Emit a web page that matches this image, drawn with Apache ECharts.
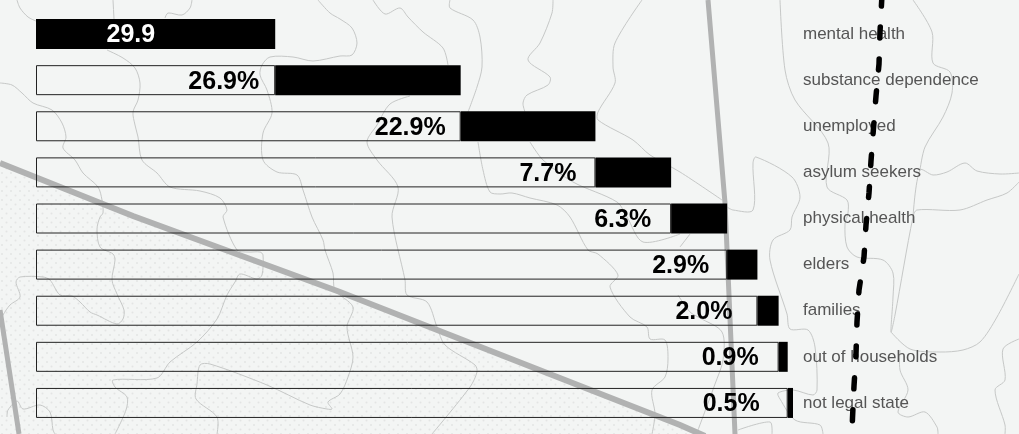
<!DOCTYPE html>
<html>
<head>
<meta charset="utf-8">
<style>
  html, body { margin: 0; padding: 0; background: #f3f5f4; }
  #chart { width: 1019px; height: 434px; }
</style>
<script src="https://cdn.jsdelivr.net/npm/echarts@6/dist/echarts.min.js"></script>
</head>
<body>
<div id="chart"></div>
<script>
const categories = ["mental health", "substance dependence", "unemployed", "asylum seekers", "physical health", "elders", "families", "out of households", "not legal state"];
// printed labels
const valueLabels = ["29.9", "26.9%", "22.9%", "7.7%", "6.3%", "2.9%", "2.0%", "0.9%", "0.5%"];
// bar lengths as drawn, in percent of the full width (the drawn lengths differ from the printed labels)
const drawnShares = [31.6, 24.5, 17.8, 10.0, 7.4, 4.0, 2.8, 1.2, 0.8];
// gap between printed label and the start of the black bar
const labelGaps = [120, 16, 15, 19, 20, 18, 25, 20, 28];

// background map
const thinLines = [
  [[17,0],[20,8],[28,17],[36,21]],
  [[107,50],[123,58],[135,68],[140,83],[138,100],[133,112],[135,125],[138,137],[142,160],[157,173],[170,187],[200,191],[220,198],[227,210],[223,217],[237,250],[248,252],[260,252],[263,255],[262,275],[257,279],[240,274],[235,282],[227,295],[217,319],[197,342],[170,362],[157,378],[113,380],[115,387],[127,397],[126,410],[115,434]],
  [[0,83],[12,85],[22,93],[33,103],[52,110],[62,123],[66,137],[63,148],[75,160],[83,173],[98,187],[102,200],[103,213],[100,217],[97,229],[100,247],[113,254],[115,260],[112,280],[117,294],[124,310],[123,319],[117,324],[97,315],[90,312],[80,302],[72,296],[60,295],[50,280],[43,277],[20,277],[16,282],[20,297],[10,305],[3,315],[0,322]],
  [[113,0],[114,19]],
  [[192,0],[190,8],[182,15],[168,13],[165,18]],
  [[318,0],[330,13],[340,19],[352,28],[357,43],[352,55],[340,56],[313,61],[293,57],[270,57],[262,65],[260,75],[267,90],[272,113],[263,133],[263,160],[277,172],[297,175],[303,190],[312,217],[323,240],[325,250],[333,273],[335,290],[353,307],[347,327],[353,357],[348,377],[340,394],[328,402],[332,409],[327,409],[310,405],[267,385],[210,364],[200,365],[197,384],[196,399],[217,417],[217,434]],
  [[7,417],[8,410],[17,401],[23,409],[40,405],[50,412],[53,430],[55,434]],
  [[373,0],[385,14],[400,8],[408,17],[423,32],[443,48],[448,65]],
  [[410,96],[390,104],[377,125],[367,142],[377,160],[398,187],[392,217],[405,280],[407,295],[427,302],[437,327],[445,345],[475,365],[477,372],[470,387],[432,434]],
  [[450,0],[450,8],[473,20],[480,37],[482,67],[477,87],[468,112]],
  [[478,142],[483,170],[490,192],[500,194],[512,193],[530,198],[557,205],[570,217],[588,250],[598,254],[618,275],[610,287],[630,317],[647,327],[650,339],[665,340],[668,359],[665,377],[652,390],[655,414],[652,434]],
  [[553,0],[552,13],[540,43],[528,60],[550,77],[548,85],[527,95],[523,103],[525,112]],
  [[530,142],[543,160],[573,182],[617,202],[627,217],[643,242],[680,234]],
  [[642,0],[615,43],[613,67],[615,83],[598,112],[598,120],[633,140],[650,155],[680,172],[722,200]],
  [[780,0],[785,70],[795,100],[828,143],[827,187],[847,200],[848,213],[845,224],[847,247],[857,257],[883,260],[893,273],[893,297],[891,332],[895,315],[913,217],[917,210],[960,210],[987,200],[1007,193],[1019,182]],
  [[920,170],[925,147],[943,117],[952,93],[950,72],[933,63],[932,32],[913,0]],
  [[913,217],[920,170],[933,175],[947,172],[965,163],[977,171],[1000,174],[1019,173]],
  [[727,207],[733,210],[753,210],[753,163],[756,157],[792,177],[800,197],[792,217],[790,230],[773,240],[770,260],[787,314],[790,329],[808,330],[815,347],[817,390],[813,395],[793,390],[778,393],[780,399],[795,420],[820,425],[823,434]],
  [[891,332],[910,349],[940,352],[963,350],[980,342],[997,317],[1019,274]],
  [[900,350],[900,370],[908,390],[898,412],[908,417],[925,412],[937,427],[938,434]],
  [[1019,339],[1003,349],[1005,380],[995,390],[1005,425],[1005,434]],
  [[738,430],[770,422],[772,434]],
  [[678,295],[690,312],[700,318],[722,332],[723,360],[715,384],[698,430]],
  [[690,234],[680,247]]
];
const diagonalLine = [[0,163],[133,216],[340,292],[680,425],[705,436]];
const thickLines = [
  [[708,0],[725,203],[735,434]],
  [[0,310],[19,434]]
];
const dottedArea = [[0,163],[133,216],[340,292],[680,425],[705,434],[0,434]];
const railway = [[882,-5],[880,32],[879,64],[876,96],[873.5,128],[871,161],[869,193],[866,225],[864,257],[859,290],[857,322],[856,354],[854,386],[852.5,418],[852,434]];

// stacked offset: everything left of each black bar
let offsets = [];
let running = 0;
drawnShares.forEach((v) => {
  offsets.push(running);
  running += v;
});

function dotTile() {
  const c = document.createElement("canvas");
  c.width = 9;
  c.height = 9;
  const ctx = c.getContext("2d");
  ctx.fillStyle = "#e3e5e4";
  [[2, 2], [6.5, 6.5]].forEach((p) => {
    ctx.beginPath();
    ctx.arc(p[0], p[1], 1, 0, Math.PI * 2);
    ctx.fill();
  });
  return c;
}

let graphics = [
  {
    type: "polygon",
    z: -20,
    shape: { points: dottedArea },
    style: { fill: { image: dotTile(), repeat: "repeat" } },
    silent: true,
  },
];
thinLines.forEach((pts) => {
  graphics.push({
    type: "polyline",
    z: -15,
    shape: { points: pts, smooth: 0.3 },
    style: { stroke: "#c6c8c7", lineWidth: 1, fill: null },
    silent: true,
  });
});
graphics.push({
  type: "polyline",
  z: -10,
  shape: { points: diagonalLine },
  style: { stroke: "#b1b2b2", lineWidth: 6, fill: null },
  silent: true,
});
thickLines.forEach((pts) => {
  graphics.push({
    type: "polyline",
    z: -10,
    shape: { points: pts },
    style: { stroke: "#b1b2b2", lineWidth: 5, fill: null },
    silent: true,
  });
});
graphics.push({
  type: "polyline",
  z: 100,
  shape: { points: railway },
  style: { stroke: "#000", lineWidth: 5.5, lineCap: "round", lineDash: [11, 21], fill: null },
  silent: true,
});

const mychart = echarts.init(document.getElementById("chart"), null, { renderer: "canvas" });
mychart.setOption({
  animation: false,
  backgroundColor: "#f3f5f4",
  textStyle: { fontFamily: "Liberation Sans" },
  graphic: { elements: graphics },
  grid: { left: 36, right: 226, top: 11, bottom: 8 },
  xAxis: { type: "value", min: 0, max: 100, show: false },
  yAxis: {
    type: "category",
    inverse: true,
    position: "right",
    data: categories,
    axisLine: { show: false },
    axisTick: { show: false },
    axisLabel: { margin: 10, color: "#555", fontSize: 17, fontFamily: "Liberation Sans" },
  },
  series: [
    {
      name: "rest",
      type: "bar",
      stack: "total",
      barWidth: 30,
      itemStyle: { color: "transparent", borderColor: "#222", borderWidth: 1 },
      label: {
        show: true,
        position: "insideRight",
        offset: [0, 1.5],
        color: "#000",
        fontSize: 25,
        fontWeight: "bold",
      },
      data: offsets.map((v, i) =>
        i === 0
          ? { value: v, itemStyle: { borderWidth: 0 }, label: { show: false } }
          : { value: v, label: { formatter: valueLabels[i], distance: labelGaps[i] } }
      ),
    },
    {
      name: "share",
      type: "bar",
      stack: "total",
      barWidth: 30,
      itemStyle: { color: "#000" },
      data: drawnShares.map((v, i) =>
        i === 0
          ? {
              value: v,
              label: {
                show: true,
                position: "insideRight",
                offset: [0, 1.5],
                distance: labelGaps[0],
                formatter: valueLabels[0],
                color: "#fff",
                fontSize: 25,
                fontWeight: "bold",
              },
            }
          : v
      ),
    },
  ],
});
</script>
</body>
</html>
